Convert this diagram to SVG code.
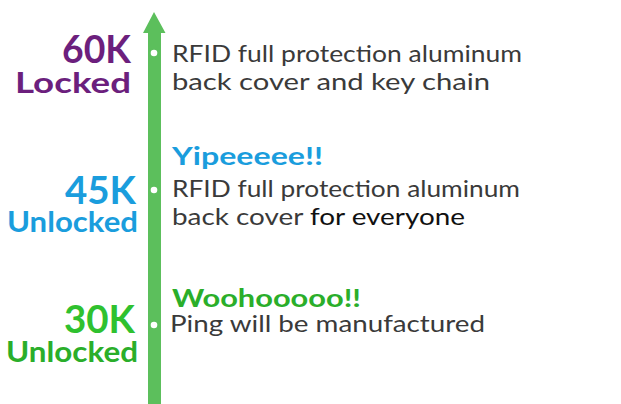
<svg xmlns="http://www.w3.org/2000/svg" width="621" height="404" viewBox="0 0 621 404">
<style>
.t{font-family:Lato,"Open Sans","Liberation Sans",sans-serif}
.big{font-weight:700;font-size:38px;text-anchor:end}
.sub{font-weight:700;font-size:28px;text-anchor:end}
.hd{font-weight:700;font-size:25px}
.body{font-size:24px;fill:#3a3a3a}
.purple{fill:#6c1f7d}
.blue{fill:#1a9ddd}
.green{fill:#2fc12f}
.green2{fill:#2aae2a}
.dot{fill:#ffffff}
</style>
<rect width="621" height="404" fill="#ffffff"/>
<g id="connectors">
<path d="M148 404 V33 H143 L154 12 L165.5 33 H161 V404 Z" fill="#5cbf5c"/>
</g>
<g id="milestone-60k">
<circle class="dot" cx="154" cy="53" r="3.3"/>
<text class="t big purple" x="131" y="63" textLength="69" lengthAdjust="spacingAndGlyphs">60K</text>
<text class="t sub purple" x="131" y="93" textLength="116" lengthAdjust="spacingAndGlyphs">Locked</text>
<text class="t body" x="172" y="62" textLength="350" lengthAdjust="spacingAndGlyphs">RFID full protection aluminum</text>
<text class="t body" x="172" y="90" textLength="318" lengthAdjust="spacingAndGlyphs">back cover and key chain</text>
</g>
<g id="milestone-45k">
<circle class="dot" cx="154" cy="190" r="3.3"/>
<text class="t big blue" x="136" y="204" textLength="71" lengthAdjust="spacingAndGlyphs">45K</text>
<text class="t sub blue" x="138" y="232" textLength="131" lengthAdjust="spacingAndGlyphs">Unlocked</text>
<text class="t hd blue" x="172" y="165" textLength="151" lengthAdjust="spacingAndGlyphs">Yipeeeee!!</text>
<text class="t body" x="172" y="197" textLength="348" lengthAdjust="spacingAndGlyphs">RFID full protection aluminum</text>
<text class="t body" x="172" y="225" textLength="293" lengthAdjust="spacingAndGlyphs">back cover <tspan fill="#111111">for everyone</tspan></text>
</g>
<g id="milestone-30k">
<circle class="dot" cx="154" cy="325" r="3.3"/>
<text class="t big green" x="135" y="333" textLength="71" lengthAdjust="spacingAndGlyphs">30K</text>
<text class="t sub green2" x="138" y="362" textLength="132" lengthAdjust="spacingAndGlyphs">Unlocked</text>
<text class="t hd green2" x="172" y="307" textLength="189" lengthAdjust="spacingAndGlyphs">Woohooooo!!</text>
<text class="t body" x="170" y="332" textLength="315" lengthAdjust="spacingAndGlyphs">Ping will be manufactured</text>
</g>
</svg>
